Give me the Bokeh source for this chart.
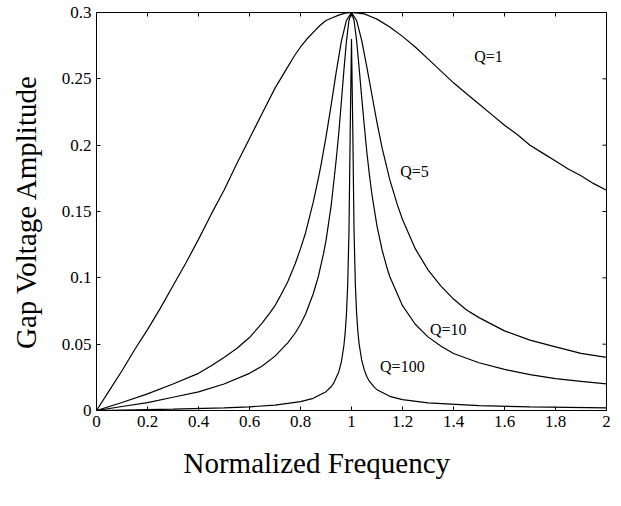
import math
from bokeh.plotting import figure
from bokeh.models import (Range1d, FixedTicker, NumeralTickFormatter, LinearAxis, Label, Title)
from bokeh.embed import file_html
from bokeh.resources import INLINE

# ---- data ----
q1_x = [0, 0.05, 0.1, 0.15, 0.2, 0.25, 0.3, 0.35, 0.4, 0.45, 0.5, 0.55, 0.6, 0.65, 0.7,
        0.75, 0.775, 0.8, 0.825, 0.85, 0.875, 0.9, 0.925, 0.95, 0.975, 1.0,
        1.025, 1.05, 1.075, 1.1, 1.15, 1.2, 1.25, 1.3, 1.35, 1.4, 1.45, 1.5,
        1.55, 1.6, 1.65, 1.7, 1.75, 1.8, 1.85, 1.9, 1.95, 2.0]
q1_y = [0, 0.015, 0.030, 0.046, 0.061, 0.077, 0.094, 0.111, 0.129, 0.148, 0.166, 0.186, 0.205, 0.224, 0.243,
        0.259, 0.267, 0.274, 0.280, 0.285, 0.290, 0.294, 0.296, 0.298, 0.2995, 0.300,
        0.2995, 0.299, 0.297, 0.295, 0.289, 0.282, 0.274, 0.265, 0.256, 0.247, 0.239, 0.231,
        0.223, 0.215, 0.208, 0.200, 0.194, 0.188, 0.182, 0.177, 0.171, 0.166]

q5_x = [0, 0.1, 0.2, 0.3, 0.4, 0.45, 0.5, 0.55, 0.6, 0.65,
        0.68, 0.7, 0.72, 0.75, 0.78, 0.8, 0.82, 0.85, 0.87, 0.88,
        0.9, 0.92, 0.94, 0.96, 0.98, 1.0, 1.02, 1.04, 1.06, 1.08,
        1.1, 1.12, 1.15, 1.18, 1.2, 1.25, 1.3, 1.35, 1.4, 1.45,
        1.5, 1.6, 1.7, 1.8, 1.9, 2.0]
q5_y = [0, 0.006, 0.0125, 0.020, 0.028, 0.0337, 0.040, 0.0467, 0.055, 0.066,
        0.0736, 0.079, 0.086, 0.097, 0.111, 0.122, 0.134, 0.157, 0.175, 0.1845,
        0.206, 0.230, 0.255, 0.278, 0.294, 0.300, 0.294, 0.279, 0.259, 0.238,
        0.217, 0.198, 0.174, 0.155, 0.144, 0.122, 0.106, 0.094, 0.084, 0.076,
        0.070, 0.060, 0.053, 0.048, 0.043, 0.040]

q10_x = [0, 0.1, 0.2, 0.3, 0.4, 0.5, 0.6, 0.65, 0.7, 0.75,
         0.78, 0.8, 0.82, 0.85, 0.87, 0.89, 0.9, 0.92, 0.94, 0.95,
         0.96, 0.97, 0.98, 0.99, 1.0, 1.01, 1.02, 1.03, 1.04, 1.05,
         1.06, 1.07, 1.08, 1.1, 1.12, 1.14, 1.15, 1.2, 1.25, 1.3,
         1.35, 1.4, 1.5, 1.6, 1.7, 1.8, 1.9, 2.0]
q10_y = [0, 0.003, 0.006, 0.010, 0.014, 0.020, 0.028, 0.0336, 0.041, 0.051,
         0.0586, 0.065, 0.0728, 0.088, 0.101, 0.118, 0.128, 0.154, 0.189, 0.209,
         0.232, 0.256, 0.278, 0.294, 0.300, 0.294, 0.279, 0.258, 0.236, 0.215,
         0.195, 0.178, 0.163, 0.139, 0.121, 0.107, 0.101, 0.079, 0.065, 0.0555,
         0.0486, 0.043, 0.036, 0.031, 0.027, 0.024, 0.022, 0.020]

q100_x = [0, 0.1, 0.3, 0.5, 0.6, 0.7, 0.8, 0.85, 0.9, 0.92,
          0.93, 0.95, 0.96, 0.97, 0.975, 0.98, 0.985, 0.99, 0.995, 1.0,
          1.005, 1.01, 1.015, 1.02, 1.025, 1.03, 1.04, 1.05, 1.06, 1.07,
          1.09, 1.1, 1.15, 1.2, 1.3, 1.5, 1.7, 2.0]
q100_y = [0, 0.0003, 0.001, 0.002, 0.0028, 0.0041, 0.0067, 0.0092, 0.0142, 0.0179,
          0.0206, 0.0291, 0.0365, 0.0486, 0.0581, 0.0721, 0.0942, 0.1336, 0.212, 0.280,
          0.212, 0.135, 0.0955, 0.0734, 0.0595, 0.050, 0.0379, 0.0306, 0.0256, 0.0221,
          0.0174, 0.0157, 0.0107, 0.0082, 0.0057, 0.0036, 0.0027, 0.002]

x_ticks = [0, 0.2, 0.4, 0.6, 0.8, 1.0, 1.2, 1.4, 1.6, 1.8, 2.0]
y_ticks = [0, 0.05, 0.1, 0.15, 0.2, 0.25, 0.3]

curve_labels = ["Q=1", "Q=5", "Q=10", "Q=100"]
x_title = "Normalized Frequency"
y_title = "Gap Voltage Amplitude"

# ---- styling ----
FONT = "Liberation Serif"
W, H = 615, 500
X0, X1, Y0, Y1 = 0, 2, 0, 0.3

p = figure(width=W, height=H, output_backend="svg", toolbar_location=None,
           x_range=Range1d(X0, X1), y_range=Range1d(Y0, Y1),
           x_axis_location=None, y_axis_location=None,
           min_border_left=96, min_border_top=12, min_border_right=9, min_border_bottom=90)
p.grid.visible = False
p.background_fill_color = "white"
p.border_fill_color = "white"
p.outline_line_color = "black"
p.outline_line_width = 1

def make_axis(ticks):
    ax = LinearAxis(ticker=FixedTicker(ticks=ticks),
                    formatter=NumeralTickFormatter(format="0.[00]"))
    ax.major_tick_in = 4
    ax.major_tick_out = 0
    ax.minor_tick_in = 0
    ax.minor_tick_out = 0
    ax.axis_line_color = "black"
    ax.major_tick_line_color = "black"
    ax.major_label_text_font = FONT
    ax.major_label_text_color = "black"
    ax.major_label_text_font_size = "17px"
    ax.major_label_standoff = 5
    return ax

xaxis = make_axis(x_ticks)
yaxis = make_axis(y_ticks)
yaxis.axis_label = y_title
yaxis.axis_label_text_font = FONT
yaxis.axis_label_text_font_size = "29px"
yaxis.axis_label_text_font_style = "normal"
yaxis.axis_label_text_color = "black"
yaxis.axis_label_standoff = 17
p.add_layout(xaxis, "below")
p.add_layout(yaxis, "left")

p.add_layout(Title(text=x_title, align="left", offset=87, text_font=FONT,
                   text_font_size="29px", text_font_style="normal", text_color="black",
                   standoff=32, vertical_align="middle"), "below")

# inward ticks on the top and right frame edges (half of each dash is clipped by the frame)
p.scatter(x_ticks, [Y1] * len(x_ticks), marker="dash", size=8, angle=math.pi / 2,
          line_color="black", line_width=1)
p.scatter([X1] * len(y_ticks), y_ticks, marker="dash", size=8,
          line_color="black", line_width=1)

for xs, ys in [(q1_x, q1_y), (q5_x, q5_y), (q10_x, q10_y), (q100_x, q100_y)]:
    p.line(xs, ys, line_color="black", line_width=1.2)

label_pos = [(1.481, 0.267), (1.191, 0.180), (1.308, 0.061), (1.112, 0.0332)]
for txt, (lx, ly) in zip(curve_labels, label_pos):
    p.add_layout(Label(x=lx, y=ly, text=txt, text_font=FONT, text_font_size="16px",
                       text_align="left", text_baseline="middle", text_color="black"))

open("out.html", "w").write(file_html(p, INLINE))
